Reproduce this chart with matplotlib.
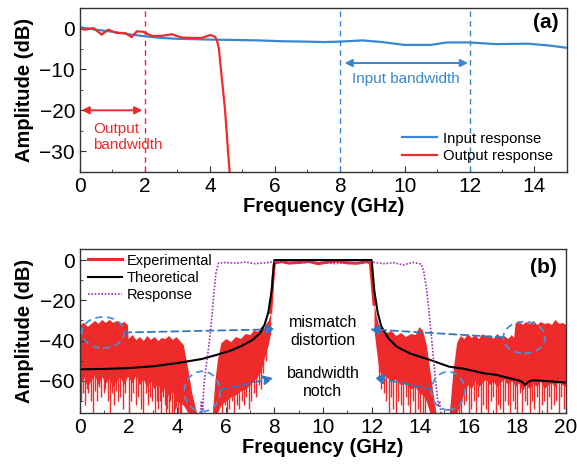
import numpy as np
import matplotlib
matplotlib.use("Agg")
import matplotlib.pyplot as plt
from matplotlib.patches import Ellipse
from matplotlib.ticker import MultipleLocator

plt.rcParams["font.family"] = ["Liberation Sans", "DejaVu Sans"]

# ---- panel (a): measured responses ----
in_freq = [0.0, 0.5, 1.0, 1.5, 2.0, 2.5, 3.0, 3.5, 4.0, 4.8, 5.5, 6.2, 7.0,
           7.5, 8.0, 8.7, 9.3, 10.0, 10.8, 11.3, 12.0, 12.8, 13.8, 14.4, 15.0]
in_amp = [0.2, -0.4, -0.9, -1.5, -2.0, -2.4, -2.6, -2.7, -2.8, -2.9, -3.0,
          -3.2, -3.3, -3.4, -3.3, -3.0, -3.4, -4.1, -4.1, -3.5, -3.5, -3.9,
          -3.8, -4.2, -4.8]

out_freq = [0.0, 0.15, 0.41, 0.67, 0.87, 1.13, 1.39, 1.59, 1.75, 1.95, 2.21,
            2.52, 2.83, 3.13, 3.44, 3.75, 4.01, 4.16, 4.22, 4.28, 4.34, 4.47,
            4.56, 4.66]
out_amp = [-0.1, -0.4, 0.0, -1.6, -0.4, -1.2, -1.2, -2.2, -0.8, -0.9, -1.9,
           -1.9, -1.5, -2.3, -2.4, -2.4, -1.7, -2.1, -3.0, -5.0, -10.0,
           -20.0, -30.0, -40.0]

# ---- panel (b): experimental noise envelopes (dB) ----
exp_l1_freq = [0.0, 0.15, 0.3, 0.45, 0.6, 0.75, 0.9, 1.05, 1.2, 1.35, 1.5,
               1.65, 1.8, 1.95, 1.98, 2.15, 2.3, 2.45, 2.6, 2.75, 2.9, 3.05,
               3.2, 3.35, 3.5, 3.65, 3.8, 3.95, 4.1, 4.25, 4.45, 4.6, 4.8]
exp_l1_up = [-32, -31, -33, -31.5, -30, -31.5, -29.5, -31, -29.5, -31, -30,
             -31.5, -30.5, -32, -39, -37, -39.5, -38, -40, -37.5, -39.5, -38,
             -40, -38.5, -39, -37.5, -39.5, -38, -40, -42, -55, -66, -76]
exp_l1_low = [-62, -58, -63, -60, -57, -62, -58, -61, -59, -63, -60, -58,
              -62, -58, -58, -61, -57, -62, -59, -63, -60, -64, -61, -66,
              -63, -68, -65, -70, -71, -72, -76, -76, -76]

exp_l2_freq = [5.45, 5.55, 5.65, 5.8, 6.0, 6.2, 6.4, 6.6, 6.8, 7.0, 7.15,
               7.3, 7.45, 7.55, 7.65, 7.75, 7.85]
exp_l2_up = [-76, -60, -50, -41, -39, -40.5, -38, -39, -36.5, -37, -34.5,
             -35.5, -33, -34, -31.5, -30, -26]
exp_l2_low = [-76, -76, -76, -72, -70, -68, -67, -65, -64, -62, -60, -58,
              -55, -50, -46, -42, -36]

exp_r1_freq = [12.1, 12.2, 12.3, 12.45, 12.6, 12.8, 13.0, 13.2, 13.4, 13.6,
               13.8, 13.95, 14.1, 14.25, 14.4, 14.55, 14.65]
exp_r1_up = [-22, -28, -33, -34, -36, -35, -37.5, -36, -38, -36.5, -37,
             -33, -35, -42, -55, -68, -76]
exp_r1_low = [-35, -45, -55, -57, -58, -60, -59, -62, -61, -64, -63, -66,
              -67, -70, -76, -76, -76]

exp_r2_freq = [15.2, 15.35, 15.5, 15.65, 15.8, 15.95, 16.1, 16.25, 16.4,
               16.55, 16.7, 16.85, 17.0, 17.15, 17.3, 17.45, 17.6, 17.75,
               17.85, 17.9, 18.05, 18.2, 18.35, 18.5, 18.65, 18.8, 18.95,
               19.1, 19.25, 19.4, 19.55, 19.7, 19.85, 20.0]
exp_r2_up = [-76, -55, -41, -37.5, -39, -36.5, -38.5, -37, -39, -36.5, -38,
             -37, -39, -36.5, -38, -37.5, -39, -37, -38.5, -31.5, -30, -32,
             -30.5, -31.5, -30, -32, -30.5, -31.5, -31, -32, -29.5, -31.5,
             -31, -32]
exp_r2_low = [-76, -76, -76, -72, -66, -62, -64, -60, -63, -61, -59, -62,
              -60, -63, -61, -59, -62, -60, -61, -63, -61, -65, -62, -64,
              -61, -63, -60, -64, -62, -61, -63, -60, -62, -63]

pass_freq = [7.85, 7.95, 8.0, 8.3, 8.6, 9.0, 9.4, 9.8, 10.2, 10.6, 11.0, 11.4,
             11.8, 11.95, 12.0, 12.1]
pass_amp = [-26, -8, -1.5, -0.8, -1.5, -1.2, -0.7, -1.8, -1.0, -0.6, -1.4,
            -1.6, -0.8, -1.5, -8, -22]

spike_freq = [0.05, 0.12, 0.2, 0.28, 0.35, 0.45, 0.54, 0.62, 0.7, 0.8, 0.88,
              0.97, 1.05, 1.14, 1.22, 1.3, 1.4, 1.48, 1.56, 1.66, 1.77, 1.86,
              2.02, 2.11, 2.2, 2.3, 2.4, 2.5, 2.59, 2.7, 2.8, 2.88, 2.95,
              3.07, 3.15, 3.22, 3.28, 3.35, 3.42, 3.48, 3.55, 3.6, 3.65, 3.72,
              3.78, 3.85, 3.9, 3.96, 4.02, 4.1, 4.16,
              5.85, 5.95, 6.05, 6.15, 6.25, 6.35, 6.45, 6.55, 6.65, 6.75,
              6.85, 6.95, 7.05, 7.15, 7.25, 7.35, 7.45, 7.55, 7.65,
              12.3, 12.4, 12.5, 12.6, 12.7, 12.8, 12.9, 13.0, 13.1, 13.2,
              13.3, 13.4, 13.5, 13.6, 13.7, 13.8, 13.9, 14.0, 14.1, 14.2,
              15.6, 15.7, 15.8, 15.9, 16.0, 16.1, 16.2, 16.3, 16.4, 16.5,
              16.6, 16.7, 16.8, 16.9, 17.0, 17.1, 17.2, 17.3, 17.4, 17.5,
              17.6, 17.7, 17.8, 17.9, 18.0, 18.1, 18.2, 18.3, 18.4, 18.5,
              18.6, 18.7, 18.8, 18.9, 19.0, 19.1, 19.2, 19.3, 19.4, 19.5,
              19.6, 19.7, 19.8, 19.9]
spike_low = [-70, -66, -72, -64, -66, -70, -76, -65, -70, -63, -68,
             -66, -64, -70, -76, -66, -72, -65, -70, -68, -74, -66,
             -76, -70, -66, -72, -68, -74, -76, -66, -72, -68, -70,
             -76, -70, -74, -70, -76, -68, -72, -76, -74, -76, -70,
             -76, -76, -74, -73, -76, -76, -76,
             -76, -72, -76, -74, -70, -76, -72, -74, -70, -72,
             -68, -74, -70, -66, -68, -62, -64, -56, -50,
             -60, -64, -66, -70, -76, -68, -74, -76, -70, -72,
             -76, -68, -72, -76, -70, -76, -74, -76, -76, -76,
             -76, -76, -72, -70, -76, -74, -70, -76, -68, -76,
             -72, -74, -76, -70, -68, -76, -72, -74, -76, -70,
             -72, -76, -70, -74, -76, -66, -76, -70, -72, -76,
             -70, -74, -68, -76, -72, -70, -76, -68, -74, -72,
             -70, -76, -68, -74]

theo_freq = [0, 1, 2, 3, 4, 5, 5.6, 6.2, 6.65, 7.1, 7.4, 7.6, 7.75, 7.89,
             7.96, 8.0, 12.0, 12.04, 12.11, 12.25, 12.4, 12.7, 13.03, 13.6,
             14.4, 15.2, 15.8, 16.6, 17.15, 17.97, 18.17, 18.31, 18.45, 18.6,
             18.93, 19.5, 20]
theo_amp = [-54.3, -54.1, -53.7, -52.8, -51.2, -49.2, -47.2, -45, -42.7,
            -39.7, -36.5, -32, -26, -15, -5, 0, 0, -5, -15, -26, -33, -39,
            -43, -46.5, -49.6, -53, -54, -56.2, -57.1, -59.6, -60.3, -62,
            -60.5, -59.8, -59.9, -60.4, -60.9]

resp_freq = [4.95, 5.0, 5.05, 5.1, 5.2, 5.3, 5.4, 5.5, 5.6, 5.7, 6.0, 6.4,
             6.8, 7.2, 7.6, 8.0, 8.5, 9.0, 9.5, 10.0, 10.5, 11.0, 11.5, 12.0,
             12.5, 12.9, 13.3, 13.7, 14.05, 14.15, 14.27, 14.4, 14.54, 14.65,
             14.75, 14.8, 14.85]
resp_amp = [-76, -70, -75, -62, -52, -43, -32, -18, -6, -1.5, -1.2, -1.6,
            -1.0, -1.8, -1.4, -0.8, -1.2, -1.6, -1.0, -1.4, -1.8, -1.2, -1.5,
            -1.0, -1.8, -1.3, -2.4, -1.2, -2.0, -6, -15, -30, -48, -62, -73,
            -70, -76]

RED = "#ee2a2a"
BLUE = "#3b86cf"
ANN = "#2f78c4"
PURPLE = "#9b35b0"

fig = plt.figure(figsize=(5.77, 4.72), dpi=100)
ax1 = fig.add_axes([0.1386, 0.6356, 0.844, 0.3485])
ax2 = fig.add_axes([0.1386, 0.125, 0.8423, 0.3475])

for ax in (ax1, ax2):
    for s in ax.spines.values():
        s.set_color("#333333")
        s.set_linewidth(1.0)
    ax.tick_params(which="both", direction="in", labelsize=15, colors="#333333",
                   labelcolor="black")
    ax.tick_params(which="major", length=4)
    ax.tick_params(which="minor", length=2.5)
    ax.set_xlabel("Frequency (GHz)", fontsize=14.5, fontweight="bold", labelpad=1)
    ax.set_ylabel("Amplitude (dB)", fontsize=14.5, fontweight="bold", labelpad=4)

# panel (a)
ax1.axvline(2, color=RED, ls=(0, (4, 3)), lw=1.0)
ax1.axvline(8, color=BLUE, ls=(0, (4, 3)), lw=1.0)
ax1.axvline(12, color=BLUE, ls=(0, (4, 3)), lw=1.0)
ax1.plot(in_freq, in_amp, color=BLUE, lw=1.6, label="Input response")
ax1.plot(out_freq, out_amp, color=RED, lw=1.6, label="Output response")
ax1.annotate("", xy=(0.05, -20), xytext=(1.92, -20),
             arrowprops=dict(arrowstyle="<|-|>", color=RED, lw=1.4,
                             shrinkA=0, shrinkB=0, mutation_scale=11))
ax1.text(0.4, -26.5, "Output\nbandwidth", color=RED, fontsize=11,
         ha="left", va="center", linespacing=1.25)
ax1.annotate("", xy=(8.15, -8.5), xytext=(11.95, -8.5),
             arrowprops=dict(arrowstyle="<|-|>", color=BLUE, lw=1.4,
                             shrinkA=0, shrinkB=0, mutation_scale=11))
ax1.text(10.05, -12.3, "Input bandwidth", color=BLUE, fontsize=11,
         ha="center", va="center")
ax1.set_xlim(0, 15)
ax1.set_ylim(-35, 5)
ax1.xaxis.set_major_locator(MultipleLocator(2))
ax1.xaxis.set_minor_locator(MultipleLocator(1))
ax1.yaxis.set_major_locator(MultipleLocator(10))
ax1.yaxis.set_minor_locator(MultipleLocator(5))
ax1.legend(loc="lower right", bbox_to_anchor=(0.978, 0.035), frameon=False,
           fontsize=10.7, handlelength=2.35, handletextpad=0.4,
           labelspacing=0.25, borderpad=0.2, borderaxespad=0)
ax1.text(0.982, 0.91, "(a)", transform=ax1.transAxes, fontsize=15,
         fontweight="bold", ha="right", va="center")

# panel (b)
blocks = ((exp_l1_freq, exp_l1_up, exp_l1_low),
          (exp_l2_freq, exp_l2_up, exp_l2_low),
          (exp_r1_freq, exp_r1_up, exp_r1_low),
          (exp_r2_freq, exp_r2_up, exp_r2_low))
for f, up, low in blocks:
    ax2.fill_between(f, low, up, color=RED, lw=0)
all_f = np.concatenate([b[0] for b in blocks])
all_low = np.concatenate([b[2] for b in blocks])
order = np.argsort(all_f)
spike_top = np.interp(spike_freq, all_f[order], all_low[order]) + 2
ax2.vlines(spike_freq, spike_low, spike_top, color=RED, lw=1.0)
ax2.plot(pass_freq, pass_amp, color=RED, lw=2.2, label="Experimental")
ax2.plot(theo_freq, theo_amp, color="black", lw=1.5, label="Theoretical")
ax2.plot(resp_freq, resp_amp, color=PURPLE, lw=1.2, ls=(0, (1, 1)),
         label="Response")

ellipses = [(0.95, -36, 1.75, 15.4), (5.03, -65.3, 1.47, 20),
            (18.28, -38.5, 1.72, 15.7), (15.15, -65, 1.37, 19)]
for cx, cy, w, h in ellipses:
    ax2.add_patch(Ellipse((cx, cy), w, h, fill=False, ec="#4a90d6", lw=1.3,
                          ls=(0, (4, 2.5)), zorder=5))

arrows = [((1.82, -36), (8.05, -34.4)), ((5.76, -64.5), (7.96, -58.7)),
          ((17.42, -38.4), (11.93, -34.4)), ((14.47, -64.2), (12.1, -58.2))]
for start, end in arrows:
    ax2.annotate("", xy=end, xytext=start, zorder=6,
                 arrowprops=dict(arrowstyle="-|>", color=ANN, lw=1.3,
                                 ls=(0, (4, 2.5)), shrinkA=0, shrinkB=0,
                                 mutation_scale=14))
ax2.text(10.0, -35.6, "mismatch\ndistortion", fontsize=11.5, ha="center",
         va="center", linespacing=1.25)
ax2.text(10.0, -60.6, "bandwidth\nnotch", fontsize=11.5, ha="center",
         va="center", linespacing=1.25)

ax2.set_xlim(0, 20)
ax2.set_ylim(-76, 5.5)
ax2.xaxis.set_major_locator(MultipleLocator(2))
ax2.xaxis.set_minor_locator(MultipleLocator(1))
ax2.yaxis.set_major_locator(MultipleLocator(20))
ax2.yaxis.set_minor_locator(MultipleLocator(10))
ax2.legend(loc="upper left", bbox_to_anchor=(0.011, 0.99), frameon=False,
           fontsize=10.5, handlelength=2.3, handletextpad=0.35,
           labelspacing=0.22, borderpad=0.2, borderaxespad=0)
ax2.text(0.982, 0.89, "(b)", transform=ax2.transAxes, fontsize=15,
         fontweight="bold", ha="right", va="center")

fig.savefig("out.png", dpi=100)
